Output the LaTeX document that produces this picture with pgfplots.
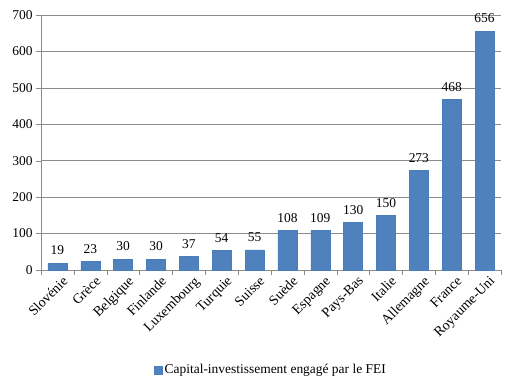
\documentclass[border=0pt]{standalone}
\usepackage{pgfplots}
\pgfplotsset{compat=1.18}
\usepackage{fontspec}
\setmainfont{Liberation Serif}
\definecolor{barblue}{HTML}{4F81BD}
\definecolor{baredge}{HTML}{4A7EBB}
\definecolor{gridgray}{HTML}{8C8C8C}
\begin{document}
\begin{tikzpicture}
\useasboundingbox (-41bp,-121bp) rectangle (476bp,270bp);
\begin{axis}[
  at={(0bp,0bp)}, anchor=south west,
  scale only axis, width=460bp, height=255bp,
  xmin=-0.5, xmax=13.5, ymin=0, ymax=700,
  ytick={0,100,...,700},
  xtick={0,...,13},
  xticklabels={Slovénie,Grèce,Belgique,Finlande,Luxembourg,Turquie,Suisse,Suède,Espagne,Pays-Bas,Italie,Allemagne,France,Royaume-Uni},
  minor xtick={-0.5,0.5,...,13.5},
  major x tick style={draw=none},
  minor tick length=5bp,
  major tick length=5bp,
  tick align=outside,
  axis x line*=bottom, axis y line*=left,
  axis line style={gridgray, -},
  every tick/.style={gridgray},
  ymajorgrids, grid style={gridgray, line width=0.6pt},
  x tick label style={rotate=45, anchor=north east, font=\fontsize{14}{15}\selectfont, xshift=4bp, yshift=-2bp, inner sep=1bp},
  y tick label style={font=\fontsize{13.5}{15}\selectfont},
  /pgf/number format/assume math mode=true,
  ybar, bar width=19bp,
  nodes near coords,
  every node near coord/.append style={font=\fontsize{13.5}{15}\selectfont, yshift=4.5bp, black},
  legend style={at={(0.5,-0.392)}, anchor=center, draw=none, font=\fontsize{13.5}{15}\selectfont, legend cell align=left},
  legend image code/.code={\draw[fill=barblue, draw=baredge] (0bp,-4bp) rectangle (8bp,4bp);},
]
\addplot[fill=barblue, draw=baredge] coordinates {
(0,19) (1,23) (2,30) (3,30) (4,37) (5,54) (6,55) (7,108) (8,109) (9,130) (10,150) (11,273) (12,468) (13,656)
};
\legend{Capital-investissement engagé par le FEI}
\end{axis}
\end{tikzpicture}
\end{document}
